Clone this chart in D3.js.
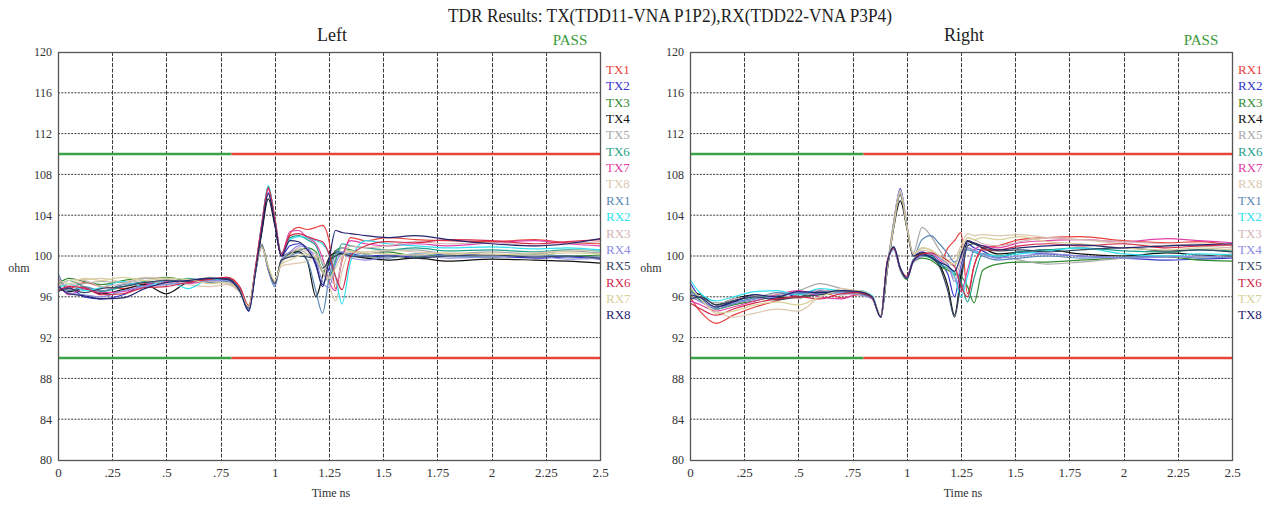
<!DOCTYPE html>
<html>
<head>
<meta charset="utf-8">
<script src="https://cdnjs.cloudflare.com/ajax/libs/d3/7.8.5/d3.min.js"></script>
<style>
  body { margin: 0; background: #fff; }
</style>
</head>
<body>
<div id="chart"></div>
<script>
// sample times (ns) shared by every trace
var timeNs = [0, 0.05, 0.12, 0.2, 0.3, 0.4, 0.5, 0.6, 0.7, 0.78, 0.84, 0.88, 0.91, 0.94, 0.97, 1.0, 1.03, 1.07,
  1.11, 1.15, 1.19, 1.22, 1.25, 1.28, 1.31, 1.35, 1.42, 1.52, 1.65, 1.8, 2.0, 2.2, 2.35, 2.5];

var xTicks = [0, 0.25, 0.5, 0.75, 1, 1.25, 1.5, 1.75, 2, 2.25, 2.5];
var yTicks = [80, 84, 88, 92, 96, 100, 104, 108, 112, 116, 120];
var limitUpper = 110;
var limitLower = 90;
var limitSwitch = 0.8;

var leftNames = ["TX1", "TX2", "TX3", "TX4", "TX5", "TX6", "TX7", "TX8", "RX1", "RX2", "RX3", "RX4", "RX5", "RX6", "RX7", "RX8"];
var rightNames = ["RX1", "RX2", "RX3", "RX4", "RX5", "RX6", "RX7", "RX8", "TX1", "TX2", "TX3", "TX4", "TX5", "TX6", "TX7", "TX8"];
var traceColors = ["#e8403c", "#3434c8", "#2e8b2e", "#111111", "#a8a8a8", "#1fa08a", "#e040a8", "#dcc8b0",
  "#5a88b8", "#30e0f0", "#d4b4b4", "#8c8ce0", "#33445e", "#d4284a", "#d8d09a", "#24246e"];

// Left panel
var leftTX1 = [97.8, 96.8, 97.4, 97.0, 96.8, 97.3, 97.6, 97.5, 97.7, 97.9, 96.9, 95.0, 98.6, 103.0, 106.6, 103.8, 100.2, 102.2, 102.8, 102.6, 102.8, 103.0, 101.5, 96.8, 99.5, 101.8, 101.5, 101.8, 101.6, 101.5, 101.4, 101.6, 101.3, 101.2];
var leftTX2 = [96.5, 96.9, 96.0, 95.8, 96.2, 97.2, 97.4, 97.6, 97.8, 97.6, 96.5, 94.6, 98.3, 102.5, 106.2, 103.2, 100.0, 101.0, 101.2, 100.8, 99.0, 97.2, 98.8, 100.5, 100.3, 100.2, 100.0, 100.1, 99.9, 100.2, 100.0, 99.8, 99.9, 99.7];
var leftTX3 = [97.2, 97.8, 97.5, 97.2, 97.6, 97.8, 97.9, 97.6, 97.8, 97.5, 96.4, 94.9, 98.4, 101.0, 98.9, 97.4, 99.6, 100.2, 100.5, 100.8, 100.4, 98.5, 99.2, 100.5, 100.8, 100.6, 100.2, 100.4, 100.0, 100.1, 99.9, 100.2, 100.0, 100.1];
var leftTX4 = [96.8, 96.5, 96.8, 96.3, 96.7, 97.2, 96.3, 97.4, 97.6, 97.8, 96.6, 94.9, 98.4, 102.3, 105.6, 103.0, 100.0, 100.3, 100.4, 99.5, 96.0, 98.0, 99.8, 100.3, 100.2, 100.0, 99.8, 99.6, 99.8, 99.5, 99.7, 99.6, 99.5, 99.3];
var leftTX5 = [97.5, 97.0, 97.3, 97.5, 97.4, 97.8, 97.7, 97.5, 97.9, 97.6, 96.7, 95.1, 98.6, 101.2, 98.6, 97.3, 99.4, 100.4, 100.6, 100.2, 99.5, 98.4, 97.5, 99.8, 100.8, 100.4, 100.2, 100.5, 100.6, 100.2, 100.4, 100.2, 100.5, 100.3];
var leftTX6 = [96.9, 97.6, 97.0, 96.5, 97.0, 97.5, 97.2, 97.8, 97.5, 97.7, 96.6, 94.8, 98.5, 103.0, 106.8, 103.5, 100.2, 101.8, 102.0, 101.6, 101.0, 99.2, 98.0, 99.5, 101.2, 101.0, 100.8, 100.6, 100.8, 100.5, 100.6, 100.4, 100.6, 100.5];
var leftTX7 = [97.3, 96.2, 96.8, 96.4, 96.5, 97.1, 97.5, 97.3, 97.6, 97.7, 96.7, 95.0, 98.7, 103.2, 106.5, 103.6, 100.1, 102.4, 102.5, 101.8, 101.2, 99.8, 97.5, 96.6, 99.8, 101.5, 101.2, 101.0, 101.2, 101.0, 101.3, 101.5, 101.2, 101.0];
var leftTX8 = [97.0, 97.6, 97.7, 97.8, 97.5, 97.9, 97.8, 97.2, 97.0, 97.2, 96.4, 95.2, 98.4, 100.8, 98.7, 97.5, 99.0, 99.2, 99.3, 99.5, 100.0, 99.4, 97.2, 95.6, 98.5, 100.5, 100.4, 100.6, 100.4, 100.2, 100.0, 100.3, 100.5, 100.6];
var leftRX1 = [98.3, 96.6, 97.0, 96.6, 97.2, 97.4, 97.6, 97.6, 97.4, 97.5, 96.5, 94.7, 98.2, 101.1, 98.6, 97.0, 99.5, 100.0, 100.3, 99.6, 96.5, 94.4, 97.8, 100.2, 100.4, 100.1, 100.0, 99.8, 100.2, 100.0, 99.9, 100.1, 100.0, 99.9];
var leftRX2 = [96.8, 97.3, 96.6, 96.9, 97.5, 97.0, 97.6, 96.8, 97.7, 97.6, 96.8, 94.9, 98.6, 103.1, 106.9, 103.6, 100.3, 101.6, 101.9, 101.8, 101.5, 101.2, 100.2, 98.0, 95.3, 99.5, 101.5, 101.2, 101.0, 100.8, 100.9, 100.7, 100.8, 100.6];
var leftRX3 = [97.4, 97.1, 97.6, 97.0, 97.3, 97.6, 97.3, 97.7, 97.5, 97.3, 96.6, 95.0, 98.5, 101.0, 98.8, 97.4, 99.3, 100.1, 100.8, 100.5, 100.2, 99.5, 98.0, 97.2, 99.6, 101.0, 100.8, 101.0, 101.4, 101.2, 101.3, 101.0, 101.2, 101.4];
var leftRX4 = [97.0, 96.4, 96.2, 96.0, 96.6, 97.0, 97.2, 97.4, 97.6, 97.6, 96.5, 94.8, 98.3, 100.9, 98.7, 97.2, 99.6, 100.4, 101.0, 100.8, 99.5, 97.5, 96.9, 99.2, 100.2, 99.8, 99.6, 99.9, 100.1, 99.8, 99.9, 100.0, 99.7, 99.8];
var leftRX5 = [96.6, 96.8, 96.4, 96.8, 97.0, 97.4, 97.6, 97.5, 97.8, 97.8, 96.6, 94.9, 98.4, 101.0, 98.8, 97.3, 99.6, 99.9, 100.0, 99.9, 99.8, 98.8, 99.5, 100.0, 100.2, 100.0, 99.9, 100.0, 99.8, 100.0, 100.1, 99.9, 100.0, 99.8];
var leftRX6 = [96.6, 97.0, 96.9, 96.2, 96.3, 96.9, 97.0, 97.4, 97.7, 97.9, 96.9, 95.1, 98.8, 103.1, 106.7, 103.6, 100.2, 102.0, 102.2, 101.9, 101.6, 101.4, 100.2, 98.0, 96.7, 100.0, 101.0, 101.4, 101.3, 101.6, 101.5, 101.2, 101.4, 101.6];
var leftRX7 = [97.6, 97.3, 97.8, 97.6, 97.9, 97.6, 97.8, 97.7, 97.3, 97.4, 96.5, 95.0, 98.4, 100.9, 98.9, 97.6, 99.2, 99.6, 100.0, 100.2, 99.8, 98.6, 97.8, 98.8, 100.0, 100.4, 100.3, 100.2, 100.1, 100.3, 100.2, 100.1, 100.3, 100.2];
var leftRX8 = [97.1, 96.3, 96.1, 95.8, 95.9, 96.8, 97.4, 97.6, 97.8, 97.7, 96.5, 94.6, 98.3, 102.6, 106.1, 103.2, 100.0, 101.5, 101.4, 100.6, 99.2, 97.0, 99.6, 102.5, 102.3, 102.2, 102.0, 101.8, 102.0, 101.6, 101.2, 101.0, 101.2, 101.7];

// Right panel
var rightRX1 = [96.0, 94.5, 93.4, 94.2, 95.0, 95.6, 96.2, 96.5, 95.9, 96.2, 95.8, 94.1, 99.4, 100.8, 98.7, 97.8, 99.6, 100.2, 100.0, 99.2, 100.8, 101.5, 102.3, 96.3, 99.0, 100.8, 101.0, 101.6, 101.8, 101.9, 101.5, 101.3, 101.4, 101.0];
var rightRX2 = [97.4, 95.8, 95.0, 95.6, 96.0, 95.8, 96.3, 96.6, 96.4, 96.5, 96.0, 94.0, 98.9, 103.4, 106.6, 103.1, 100.1, 100.4, 100.0, 99.4, 98.2, 96.0, 99.0, 101.2, 100.8, 100.5, 99.8, 100.4, 100.2, 100.0, 99.8, 99.6, 99.7, 99.8];
var rightRX3 = [96.2, 95.6, 94.8, 95.2, 95.6, 96.0, 95.9, 96.4, 96.6, 96.3, 95.9, 94.0, 99.3, 100.7, 98.6, 97.7, 99.4, 99.8, 99.6, 99.0, 98.6, 98.2, 98.0, 97.0, 95.4, 98.6, 99.2, 99.4, 99.4, 99.6, 99.8, 99.9, 99.6, 99.5];
var rightRX4 = [96.4, 96.2, 95.2, 95.8, 96.2, 95.9, 96.0, 96.4, 96.5, 96.4, 95.9, 94.0, 98.6, 102.8, 105.4, 102.8, 100.0, 100.3, 100.1, 99.2, 97.0, 94.2, 98.2, 101.4, 101.2, 100.8, 100.2, 100.4, 100.6, 100.2, 100.0, 100.3, 100.1, 100.0];
var rightRX5 = [96.5, 95.9, 95.4, 95.5, 95.8, 96.2, 96.6, 97.3, 96.8, 96.4, 96.0, 94.1, 98.8, 103.3, 106.5, 103.0, 100.3, 102.8, 102.0, 100.6, 99.5, 99.0, 100.6, 100.8, 100.4, 100.2, 100.0, 99.6, 99.2, 99.4, 99.8, 100.0, 99.9, 100.2];
var rightRX6 = [96.8, 95.6, 95.0, 95.4, 95.9, 96.1, 96.3, 96.2, 96.5, 96.6, 96.0, 94.0, 99.4, 100.9, 98.8, 97.9, 99.6, 100.0, 99.8, 99.2, 98.8, 98.4, 97.5, 95.5, 97.8, 100.2, 100.0, 100.4, 100.6, 100.8, 100.5, 100.4, 100.6, 100.5];
var rightRX7 = [95.6, 95.2, 94.6, 95.0, 95.6, 96.2, 96.6, 96.0, 95.8, 96.3, 95.9, 94.1, 99.5, 100.8, 98.7, 97.9, 99.5, 100.0, 100.2, 99.6, 99.0, 98.0, 96.5, 98.6, 100.6, 101.0, 100.8, 101.3, 101.5, 101.6, 101.4, 101.7, 101.5, 101.3];
var rightRX8 = [97.0, 95.8, 94.6, 94.0, 94.4, 94.8, 94.6, 96.0, 96.8, 96.5, 96.1, 94.2, 98.9, 103.2, 106.3, 103.0, 100.2, 100.6, 100.4, 100.0, 99.6, 99.8, 101.0, 102.2, 102.0, 102.1, 102.0, 102.1, 101.8, 101.6, 101.2, 101.0, 101.2, 101.0];
var rightTX1 = [96.6, 95.8, 94.8, 95.3, 95.8, 96.4, 96.2, 96.6, 96.2, 96.4, 95.9, 94.0, 98.7, 103.0, 106.2, 102.8, 100.0, 101.6, 102.0, 101.2, 100.2, 99.4, 100.2, 100.6, 100.4, 100.0, 99.6, 99.8, 100.0, 99.8, 99.9, 100.0, 99.8, 99.9];
var rightTX2 = [97.7, 96.3, 95.6, 96.0, 96.5, 96.6, 96.2, 96.8, 96.6, 96.6, 96.1, 94.1, 99.4, 100.8, 98.9, 97.9, 99.7, 100.1, 100.0, 99.4, 99.0, 98.0, 96.0, 98.0, 100.4, 100.2, 100.0, 100.2, 100.5, 100.8, 100.2, 100.0, 100.2, 100.1];
var rightTX3 = [96.3, 95.5, 95.0, 95.8, 96.0, 96.3, 95.8, 96.7, 96.2, 96.3, 95.8, 94.0, 98.8, 103.1, 106.4, 102.9, 100.1, 100.8, 100.6, 99.8, 99.0, 97.8, 99.5, 101.8, 101.6, 101.2, 101.0, 101.4, 101.8, 101.6, 101.4, 101.2, 101.0, 100.8];
var rightTX4 = [96.0, 95.5, 95.0, 95.4, 95.8, 96.0, 96.4, 96.3, 96.4, 96.2, 95.8, 94.0, 99.3, 100.6, 98.7, 97.8, 99.4, 100.0, 100.2, 99.8, 99.2, 97.5, 98.8, 100.8, 100.6, 100.2, 99.8, 100.0, 100.2, 100.0, 99.8, 99.9, 100.0, 99.8];
var rightTX5 = [95.8, 96.0, 95.2, 95.6, 96.0, 95.7, 96.0, 96.2, 96.6, 96.4, 95.9, 94.1, 98.7, 103.0, 106.0, 102.8, 100.0, 100.2, 99.9, 99.0, 96.5, 94.0, 97.5, 101.0, 101.2, 100.8, 100.5, 100.6, 100.4, 100.6, 100.8, 100.5, 100.6, 100.4];
var rightTX6 = [95.4, 94.8, 94.2, 94.8, 95.4, 95.8, 96.0, 95.8, 96.3, 96.4, 95.9, 94.1, 99.5, 100.8, 98.8, 98.0, 99.6, 100.2, 100.3, 100.0, 99.5, 99.0, 97.0, 96.0, 99.0, 100.6, 100.6, 101.0, 101.2, 101.0, 101.2, 100.8, 101.0, 101.1];
var rightTX7 = [96.9, 95.8, 94.4, 94.6, 95.2, 95.5, 95.2, 96.0, 96.6, 96.6, 96.0, 94.2, 98.8, 103.0, 106.2, 102.9, 100.2, 100.8, 100.6, 100.0, 99.4, 99.2, 100.5, 101.8, 101.6, 101.8, 101.6, 101.9, 101.4, 101.2, 100.8, 100.6, 100.8, 100.6];
var rightTX8 = [96.2, 95.9, 95.0, 95.5, 96.2, 96.0, 96.5, 96.4, 96.6, 96.5, 96.0, 94.0, 99.3, 100.9, 98.8, 97.8, 99.5, 100.1, 99.9, 99.4, 99.0, 98.5, 100.0, 101.5, 101.3, 101.0, 100.6, 100.8, 101.0, 101.1, 100.8, 101.0, 101.1, 101.2];

var leftSeries = [leftTX1, leftTX2, leftTX3, leftTX4, leftTX5, leftTX6, leftTX7, leftTX8,
  leftRX1, leftRX2, leftRX3, leftRX4, leftRX5, leftRX6, leftRX7, leftRX8];
var rightSeries = [rightRX1, rightRX2, rightRX3, rightRX4, rightRX5, rightRX6, rightRX7, rightRX8,
  rightTX1, rightTX2, rightTX3, rightTX4, rightTX5, rightTX6, rightTX7, rightTX8];

(function () {
  'use strict';

  var W = 1266, H = 508;
  var top = 52, bottom = 460;
  var serif = '"Liberation Serif", "DejaVu Serif", serif';

  var svg = d3.select("#chart").append("svg")
    .attr("width", W)
    .attr("height", H)
    .attr("font-family", serif);

  svg.append("text")
    .attr("x", 670)
    .attr("y", 22)
    .attr("text-anchor", "middle")
    .attr("font-size", 19)
    .attr("textLength", 444)
    .attr("lengthAdjust", "spacingAndGlyphs")
    .attr("fill", "#222")
    .text("TDR Results: TX(TDD11-VNA P1P2),RX(TDD22-VNA P3P4)");

  var panels = [
    {title: "Left", left: 58, right: 600, names: leftNames, series: leftSeries, pass: 570},
    {title: "Right", left: 690, right: 1232, names: rightNames, series: rightSeries, pass: 1201}
  ];

  function fmtTime(d) {
    return d === 0 ? "0" : String(d).replace(/^0/, "");
  }

  panels.forEach(function (p) {
    var x = d3.scaleLinear().domain([0, 2.5]).range([p.left, p.right]);
    var y = d3.scaleLinear().domain([80, 120]).range([bottom, top]);
    var g = svg.append("g");

    // dotted grid
    g.append("g").selectAll("line")
      .data(yTicks.slice(1, -1))
      .enter().append("line")
      .attr("x1", p.left).attr("x2", p.right)
      .attr("y1", function (d) { return y(d); })
      .attr("y2", function (d) { return y(d); })
      .attr("stroke", "#3a3a3a")
      .attr("stroke-width", 1)
      .attr("stroke-dasharray", "2,1.3");

    g.append("g").selectAll("line")
      .data(xTicks.slice(1, -1))
      .enter().append("line")
      .attr("y1", top).attr("y2", bottom)
      .attr("x1", function (d) { return Math.round(x(d)) + 0.5; })
      .attr("x2", function (d) { return Math.round(x(d)) + 0.5; })
      .attr("stroke", "#3a3a3a")
      .attr("stroke-width", 1)
      .attr("stroke-dasharray", "4,1.5");

    // limit lines
    [limitUpper, limitLower].forEach(function (lim) {
      g.append("line")
        .attr("x1", x(0)).attr("x2", x(limitSwitch))
        .attr("y1", y(lim)).attr("y2", y(lim))
        .attr("stroke", "#3ba244").attr("stroke-width", 2.5);
      g.append("line")
        .attr("x1", x(limitSwitch)).attr("x2", x(2.5))
        .attr("y1", y(lim)).attr("y2", y(lim))
        .attr("stroke", "#e8443c").attr("stroke-width", 2.5);
    });

    // traces
    var line = d3.line()
      .x(function (d, i) { return x(timeNs[i]); })
      .y(function (d) { return y(d); })
      .curve(d3.curveMonotoneX);

    g.append("g").selectAll("path")
      .data(p.series)
      .enter().append("path")
      .attr("d", line)
      .attr("fill", "none")
      .attr("stroke", function (d, i) { return traceColors[i]; })
      .attr("stroke-width", 1.2)
      .attr("stroke-linejoin", "round");

    // frame
    g.append("rect")
      .attr("x", p.left + 0.5).attr("y", top + 0.5)
      .attr("width", p.right - p.left).attr("height", bottom - top)
      .attr("fill", "none")
      .attr("stroke", "#555")
      .attr("stroke-width", 1.3);

    // axes
    g.append("g")
      .attr("transform", "translate(0," + bottom + ")")
      .call(d3.axisBottom(x).tickValues(xTicks).tickSize(0).tickPadding(8).tickFormat(fmtTime))
      .call(function (a) { a.select(".domain").remove(); })
      .attr("font-family", serif)
      .attr("font-size", 13)
      .selectAll("text").attr("fill", "#333");

    g.append("g")
      .attr("transform", "translate(" + p.left + ",0)")
      .call(d3.axisLeft(y).tickValues(yTicks).tickSize(0).tickPadding(6))
      .call(function (a) { a.select(".domain").remove(); })
      .attr("font-family", serif)
      .attr("font-size", 12)
      .selectAll("text").attr("fill", "#333");

    g.append("text")
      .attr("x", p.left - 39)
      .attr("y", y(98.4))
      .attr("text-anchor", "middle")
      .attr("font-size", 12)
      .attr("fill", "#333")
      .text("ohm");

    g.append("text")
      .attr("x", (p.left + p.right) / 2 + 2)
      .attr("y", 497)
      .attr("text-anchor", "middle")
      .attr("font-size", 12)
      .attr("fill", "#333")
      .text("Time ns");

    g.append("text")
      .attr("x", (p.left + p.right) / 2 + 3)
      .attr("y", 41)
      .attr("text-anchor", "middle")
      .attr("font-size", 18)
      .attr("fill", "#222")
      .text(p.title);

    g.append("text")
      .attr("x", p.pass)
      .attr("y", 45)
      .attr("text-anchor", "middle")
      .attr("font-size", 15)
      .attr("fill", "#3a9a3a")
      .text("PASS");

    // legend
    g.append("g").selectAll("text")
      .data(p.names)
      .enter().append("text")
      .attr("x", p.right + 6)
      .attr("y", function (d, i) { return 74 + i * 16.35; })
      .attr("font-size", 13)
      .attr("fill", function (d, i) { return traceColors[i]; })
      .text(function (d) { return d; });
  });
})();
</script>
</body>
</html>
